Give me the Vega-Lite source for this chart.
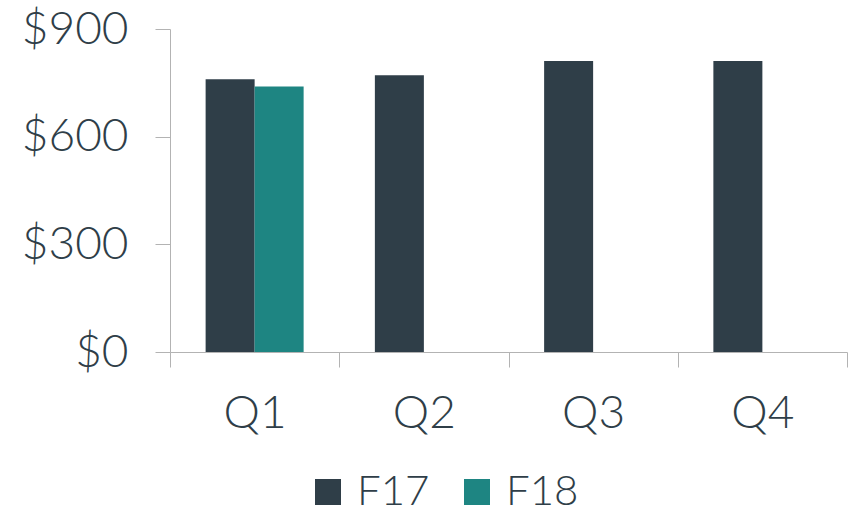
{
  "$schema": "https://vega.github.io/schema/vega-lite/v6.json",
  "width": 677,
  "height": 323,
  "autosize": "none",
  "padding": {"left": 170, "top": 29, "right": 13, "bottom": 162},
  "background": "white",
  "data": {"values": [
    {"quarter": "Q1", "year": "F17", "value": 760},
    {"quarter": "Q1", "year": "F18", "value": 740},
    {"quarter": "Q2", "year": "F17", "value": 771},
    {"quarter": "Q3", "year": "F17", "value": 811},
    {"quarter": "Q4", "year": "F17", "value": 811}
  ]},
  "mark": {"type": "bar"},
  "encoding": {
    "x": {
      "field": "quarter", "type": "nominal",
      "scale": {"paddingInner": 0, "paddingOuter": 0},
      "axis": {
        "title": null, "labelAngle": 0, "tickBand": "extent",
        "tickSize": 15, "tickColor": "#b3b3b3", "domainColor": "#b3b3b3",
        "labelFontSize": 46, "labelPadding": 24, "labelColor": "#2f3e48",
        "labelFont": "Lato", "labelFontWeight": 300
      }
    },
    "xOffset": {
      "field": "year", "type": "nominal",
      "scale": {"paddingInner": 0, "paddingOuter": 0.727}
    },
    "y": {
      "field": "value", "type": "quantitative",
      "scale": {"domain": [0, 900], "nice": false},
      "axis": {
        "title": null, "values": [0, 300, 600, 900], "grid": false,
        "tickSize": 15, "tickColor": "#b3b3b3", "domainColor": "#b3b3b3",
        "labelFontSize": 46, "labelPadding": 27, "labelColor": "#2f3e48",
        "labelFont": "Lato", "labelFontWeight": 300,
        "labelExpr": "'$' + datum.value"
      }
    },
    "color": {
      "field": "year", "type": "nominal",
      "scale": {"domain": ["F17", "F18"], "range": ["#2f3e48", "#1e8582"]},
      "legend": {
        "title": null, "orient": "none", "direction": "horizontal",
        "legendX": 137, "legendY": 442, "padding": 0,
        "symbolType": "square", "symbolSize": 676, "symbolStrokeWidth": 0,
        "labelFontSize": 42, "labelColor": "#2f3e48", "labelFont": "Lato", "labelFontWeight": 300,
        "labelOffset": 8, "columnPadding": 26, "labelLimit": 0
      }
    }
  },
  "config": {"view": {"stroke": null}}
}
